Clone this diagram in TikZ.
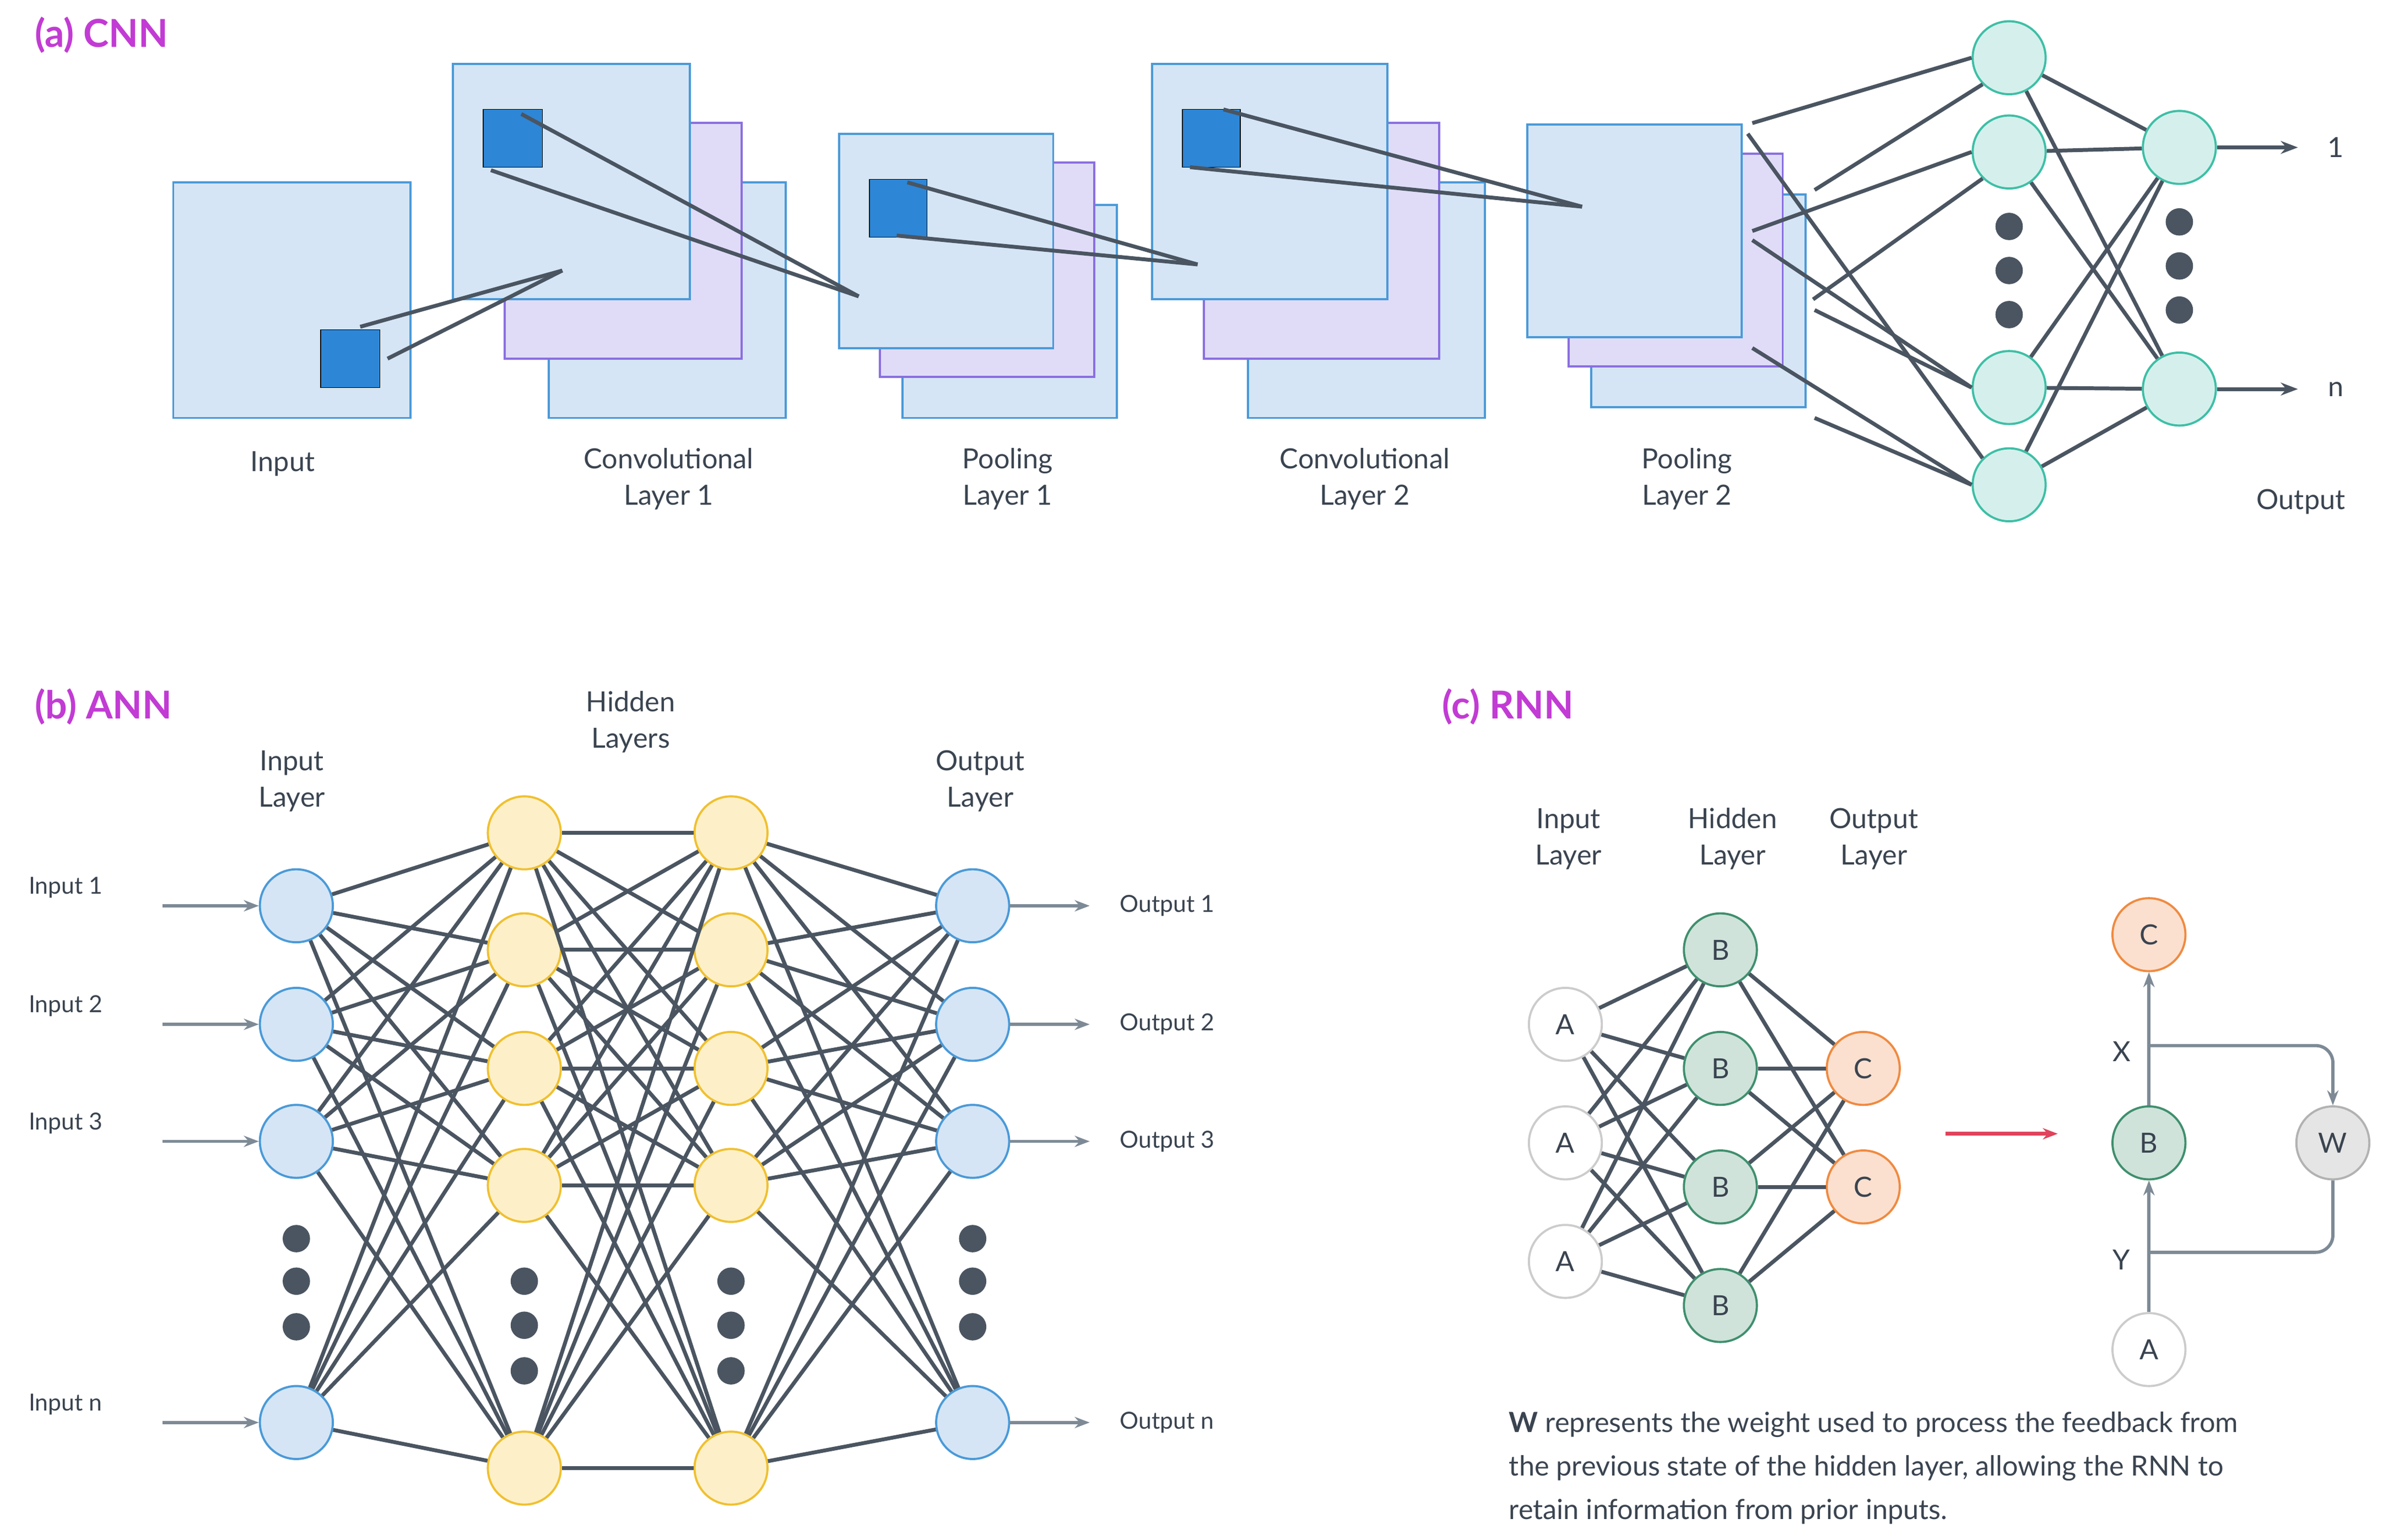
\documentclass[tikz,border=0pt]{standalone}
\usepackage{fontspec}
\setmainfont{Lato}
\usetikzlibrary{arrows.meta}
\definecolor{ln}{HTML}{4A5561}
\definecolor{ar}{HTML}{7D8A96}
\definecolor{mag}{HTML}{C23BD4}
\definecolor{bfill}{HTML}{D5E5F5}
\definecolor{bst}{HTML}{4A9AD8}
\definecolor{pfill}{HTML}{E0DCF8}
\definecolor{pst}{HTML}{8A6FE0}
\definecolor{dsq}{HTML}{2E86D6}
\definecolor{tfill}{HTML}{D5F0EC}
\definecolor{tst}{HTML}{3DBFA6}
\definecolor{yfill}{HTML}{FDF0C8}
\definecolor{yst}{HTML}{F0C030}
\definecolor{gfill}{HTML}{CFE3DA}
\definecolor{gst}{HTML}{3F8F6E}
\definecolor{ofill}{HTML}{FBE0CF}
\definecolor{ost}{HTML}{F08A40}
\definecolor{txt}{HTML}{3A4450}
\begin{document}
\begin{tikzpicture}[x=0.025cm,y=-0.025cm,
  txt/.style={text=txt,font=\fontsize{13}{17}\selectfont,align=center},
  small/.style={text=txt,font=\fontsize{11}{13}\selectfont},
  ttl/.style={text=mag,font=\fontsize{18}{20}\selectfont\bfseries,anchor=west},
  sqb/.style={draw=bst,fill=bfill,line width=1pt},
  sqp/.style={draw=pst,fill=pfill,line width=1pt},
  sqd/.style={fill=dsq},
  cn/.style={ln,line width=1.8pt},
  nd/.style={circle,minimum size=1.2cm,inner sep=0pt,line width=1pt},
  tn/.style={nd,draw=tst,fill=tfill},
  bn/.style={nd,draw=bst,fill=bfill},
  yn/.style={nd,draw=yst,fill=yfill},
  gn/.style={nd,draw=gst,fill=gfill,text=txt,font=\fontsize{13}{15}\selectfont},
  on/.style={nd,draw=ost,fill=ofill,text=txt,font=\fontsize{13}{15}\selectfont},
  an/.style={nd,draw=gray!40,fill=white,text=txt,font=\fontsize{13}{15}\selectfont},
  dot/.style={circle,fill=ln,minimum size=0.45cm,inner sep=0pt},
  arr/.style={ar,line width=1.5pt,-{Stealth[length=7pt]}},
  darr/.style={ln,line width=1.8pt,-{Stealth[length=8pt]}}]
\useasboundingbox (0,0) rectangle (1568,1013);
% titles
\node[ttl] (ta) at (18,23) {(a) CNN};
\node[ttl] (tb) at (18,465) {(b) ANN};
\node[ttl] (tc) at (944,465) {(c) RNN};
% CNN blocks
\draw[sqb] (114,120) rectangle (270,275);
\draw[sqd] (211,217) rectangle (250,255);
\draw[sqb] (361,120) rectangle (517,275);
\draw[sqp] (332,81) rectangle (488,236);
\draw[sqb] (298,42) rectangle (454,197);
\draw[sqd] (318,72) rectangle (357,110);
\draw[sqb] (594,135) rectangle (735,275);
\draw[sqp] (579,107) rectangle (720,248);
\draw[sqb] (552,88) rectangle (693,229);
\draw[sqd] (572,118) rectangle (610,156);
\draw[sqb] (821,120) rectangle (977,275);
\draw[sqp] (792,81) rectangle (947,236);
\draw[sqb] (758,42) rectangle (913,197);
\draw[sqd] (778,72) rectangle (816,110);
\draw[sqb] (1047,128) rectangle (1188,268);
\draw[sqp] (1032,101) rectangle (1173,241);
\draw[sqb] (1005,82) rectangle (1146,222);
\coordinate (c1) at (370,178);
\coordinate (c2) at (565,195);
\coordinate (c3) at (788,174);
\coordinate (c4) at (1041,136);
\draw[cn] (237,215) -- (c1); \draw[cn] (255,236) -- (c1);
\draw[cn] (343,75) -- (c2); \draw[cn] (323,112) -- (c2);
\draw[cn] (597,120) -- (c3); \draw[cn] (590,155) -- (c3);
\draw[cn] (805,72) -- (c4); \draw[cn] (783,110) -- (c4);
% FC
\node[tn] (n1) at (1322,38) {};
\node[tn] (n2) at (1322,100) {};
\node[tn] (n3) at (1322,255) {};
\node[tn] (n4) at (1322,319) {};
\node[tn] (m1) at (1434,97) {};
\node[tn] (m2) at (1434,256) {};
\foreach \y [count=\i] in {149,178,207}{\node[dot] (fd\i) at (1322,\y) {};}
\foreach \y [count=\i] in {146,175,204}{\node[dot] (gd\i) at (1434,\y) {};}
\draw[cn] (1153,81) -- (n1.west);
\draw[cn] (1150,88) -- (n4.north west);
\draw[cn] (1194,125) -- (n1.south west);
\draw[cn] (1153,152) -- (n2.west);
\draw[cn] (1193,197) -- (n2.south west);
\draw[cn] (1153,158) -- (n3.west);
\draw[cn] (1194,204) -- (n3.west);
\draw[cn] (1153,229) -- (n4.west);
\draw[cn] (1194,275) -- (n4.west);
\foreach \a in {n1,n2,n3,n4}{\foreach \b in {m1,m2}{\draw[cn] (\a) -- (\b);}}
\coordinate (o1) at (1512,97); \coordinate (o2) at (1512,256);
\draw[darr] (m1) -- (o1); \draw[darr] (m2) -- (o2);
\node[txt] (l1) at (1537,97) {1};
\node[txt] (ln) at (1537,256) {n};
\node[txt] (lout) at (1514,330) {Output};
\node[txt] (lin) at (186,305) {Input};
\node[txt] (lc1) at (440,315) {Convolutional\\Layer 1};
\node[txt] (lp1) at (663,315) {Pooling\\Layer 1};
\node[txt] (lc2) at (898,315) {Convolutional\\Layer 2};
\node[txt] (lp2) at (1110,315) {Pooling\\Layer 2};
% ANN
\node[txt] (ail) at (192,514) {Input\\Layer};
\node[txt] (ahl) at (415,475) {Hidden\\Layers};
\node[txt] (aol) at (645,514) {Output\\Layer};
\foreach \y [count=\i] in {596,674,751,936}{
  \node[bn] (i\i) at (195,\y) {};
  \node[bn] (o\i) at (640,\y) {};}
\foreach \y [count=\i] in {548,625,703,780,966}{
  \node[yn] (h\i) at (345,\y) {};
  \node[yn] (k\i) at (481,\y) {};}
\foreach \y [count=\i] in {815,843,873}{
  \node[dot] (id\i) at (195,\y) {};
  \node[dot] (od\i) at (640,\y) {};}
\foreach \y [count=\i] in {843,872,902}{
  \node[dot] (hd\i) at (345,\y) {};
  \node[dot] (kd\i) at (481,\y) {};}
\foreach \a in {1,...,4}{\foreach \b in {1,...,5}{
  \draw[cn] (i\a) -- (h\b);
  \draw[cn] (k\b) -- (o\a);}}
\foreach \a in {1,...,5}{\foreach \b in {1,...,5}{\draw[cn] (h\a) -- (k\b);}}
\foreach \y/\t [count=\i] in {596/Input 1,674/Input 2,751/Input 3,936/Input n}{
  \coordinate (is\i) at (107,\y);
  \draw[arr] (is\i) -- (i\i);
  \node[small,anchor=west] (it\i) at (14,\y-12) {\t};}
\foreach \y/\t [count=\i] in {596/Output 1,674/Output 2,751/Output 3,936/Output n}{
  \coordinate (oe\i) at (717,\y);
  \draw[arr] (o\i) -- (oe\i);
  \node[small,anchor=west] (ot\i) at (732,\y) {\t};}
% RNN
\node[txt] (ril) at (1032,552) {Input\\Layer};
\node[txt] (rhl) at (1140,552) {Hidden\\Layer};
\node[txt] (rol) at (1233,552) {Output\\Layer};
\foreach \y [count=\i] in {674,752,830}{\node[an] (ra\i) at (1030,\y) {A};}
\foreach \y [count=\i] in {625,703,781,859}{\node[gn] (rb\i) at (1132,\y) {B};}
\foreach \y [count=\i] in {703,781}{\node[on] (rc\i) at (1226,\y) {C};}
\foreach \a in {1,2,3}{\foreach \b in {1,...,4}{\draw[cn] (ra\a) -- (rb\b);}}
\foreach \a in {1,...,4}{\foreach \b in {1,2}{\draw[cn] (rb\a) -- (rc\b);}}
\coordinate (ra0) at (1280,746); \coordinate (ra9) at (1354,746);
\draw[line width=1.8pt,color={rgb,255:red,224;green,67;blue,92},-{Stealth[length=7pt]}] (ra0) -- (ra9);
\node[on] (sc) at (1414,615) {C};
\node[gn] (sb) at (1414,752) {B};
\node[an] (sa) at (1414,888) {A};
\node[nd,draw=gray!60,fill=gray!20,text=txt,font=\fontsize{13}{15}\selectfont] (sw) at (1535,752) {W};
\draw[arr] (sa) -- (sb);
\draw[arr] (sb) -- (sc);
\coordinate (x1) at (1414,688); \coordinate (y1) at (1414,824);
\draw[ar,line width=1.5pt,rounded corners=8pt,-{Stealth[length=7pt]}] (x1) -| (sw.north);
\draw[ar,line width=1.5pt,rounded corners=8pt] (sw.south) |- (y1);
\node[txt] (lx) at (1396,692) {X};
\node[txt] (ly) at (1396,829) {Y};
\node[txt,align=left,anchor=north west,font=\fontsize{13}{20.3}\selectfont] (para) at (988,924)
 {\textbf{W} represents the weight used to process the feedback from\\the previous state of the hidden layer, allowing the RNN to\\retain information from prior inputs.};
\end{tikzpicture}
\end{document}
